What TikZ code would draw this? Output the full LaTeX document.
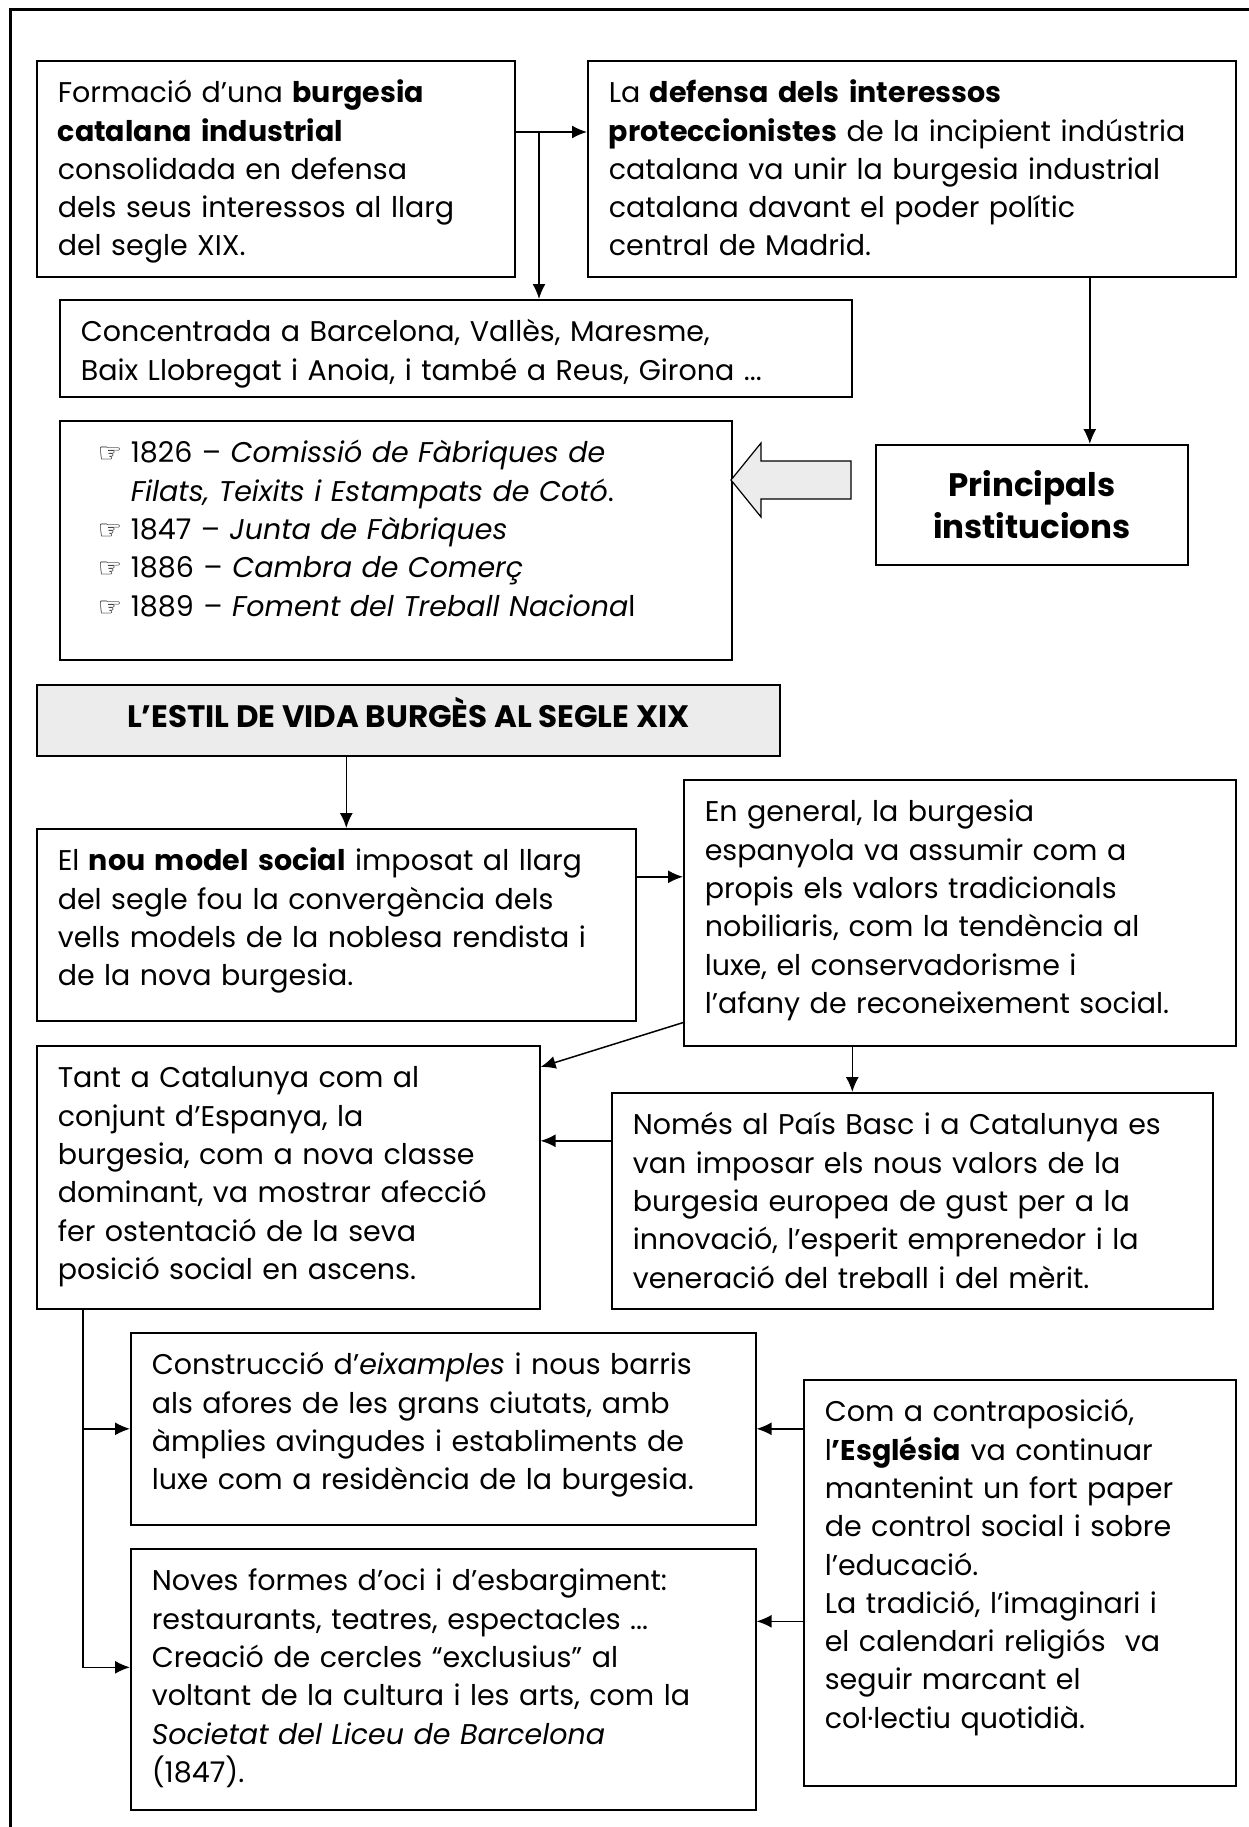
\documentclass[tikz,border=0pt]{standalone}
\usepackage{fontspec}
\setmainfont{Poppins}
\newfontfamily\symfont{DejaVu Sans}
\usetikzlibrary{arrows.meta}
\usetikzlibrary{calc}
\tikzset{box/.style={draw, line width=1.6pt, anchor=north west, align=left, inner xsep=21pt, inner ysep=0pt, text height=42pt, font=\fontsize{28.5}{38.3}\selectfont}}
\tikzset{headbox/.style={draw, line width=1.6pt, anchor=north west, align=center, inner sep=0pt}}
\tikzset{arr/.style={line width=1.5pt, -{Latex[length=15pt,width=13pt]}}}
\newcommand{\hand}{\makebox[50pt][l]{\hspace{17pt}\symfont\fontsize{27}{27}\selectfont ☞}}

\begin{document}
\begin{tikzpicture}[x=1pt,y=-1pt]
    \useasboundingbox (0,0) rectangle (1249,1827);
    \draw[line width=3pt] (10,1827) -- (10,10) -- (1249,10);

    % burgesia industrial
    \node[box, text width=436pt, text depth=174pt] (form) at (36,60) {Formació d’una \textbf{burgesia}\\ \textbf{catalana industrial}\\ consolidada en defensa\\ dels seus interessos al llarg\\ del segle XIX.};
    \node[box, text width=606pt, text depth=174pt] (defensa) at (587,60) {La \textbf{defensa dels interessos}\\ \textbf{proteccionistes} de la incipient indústria\\ catalana va unir la burgesia industrial\\ catalana davant el poder polític\\ central de Madrid.};
    \node[box, text width=750pt, text depth=55pt] (conc) at (59,299) {Concentrada a Barcelona, Vallès, Maresme,\\ Baix Llobregat i Anoia, i també a Reus, Girona ...};
    \node[box, text width=630pt, text depth=197pt] (list) at (59,420) {\hand 1826 – \textit{Comissió de Fàbriques de}\\ \hspace*{50pt}\textit{Filats, Teixits i Estampats de Cotó}.\\ \hand 1847 – \textit{Junta de Fàbriques}\\ \hand 1886 – \textit{Cambra de Comerç}\\ \hand 1889 – \textit{Foment del Treball Naciona}l};
    \node[headbox, minimum width=312pt, minimum height=120pt, font=\bfseries\fontsize{32.5}{42}\selectfont] (inst) at (875,444) {Principals\\ institucions};

    \coordinate (j1) at (539,132);
    \draw[arr] (form.east |- j1) -- (defensa.west |- j1);
    \draw[arr] (j1) -- (conc.north -| j1);
    \draw[arr] ([xshift=58pt]inst.north |- defensa.south) -- ([xshift=58pt]inst.north);
    \draw[line width=1.2pt, fill=gray!15] (731,480) -- (761,443) -- (761,461) -- (851,461) -- (851,499) -- (761,499) -- (761,517) -- cycle;

    % estil de vida
    \node[headbox, fill=gray!15, minimum width=743pt, minimum height=71pt, text height=22pt, text depth=7pt, font=\bfseries\fontsize{31}{34}\selectfont] (title) at (36,684) {L’ESTIL DE VIDA BURGÈS AL SEGLE XIX};
    \node[box, text width=557pt, text depth=150pt] (nou) at (36,828) {El \textbf{nou model social} imposat al llarg\\ del segle fou la convergència dels\\ vells models de la noblesa rendista i\\ de la nova burgesia.};
    \node[box, text width=510pt, text depth=224pt] (general) at (683,779) {En general, la burgesia\\ espanyola va assumir com a\\ propis els valors tradicionals\\ nobiliaris, com la tendència al\\ luxe, el conservadorisme i\\ l’afany de reconeixement social.};
    \node[box, text width=461pt, text depth=221pt] (tant) at (36,1045) {Tant a Catalunya com al\\ conjunt d’Espanya, la\\ burgesia, com a nova classe\\ dominant, va mostrar afecció\\ fer ostentació de la seva\\ posició social en ascens.};
    \node[box, text width=559pt, text depth=174pt] (nomes) at (611,1092) {Només al País Basc i a Catalunya es\\ van imposar els nous valors de la\\ burgesia europea de gust per a la\\ innovació, l’esperit emprenedor i la\\ veneració del treball i del mèrit.};
    \node[box, text width=583pt, text depth=150pt] (eix) at (130,1332) {Construcció d’\textit{eixamples} i nous barris\\ als afores de les grans ciutats, amb\\ àmplies avingudes i establiments de\\ luxe com a residència de la burgesia.};
    \node[box, text width=583pt, text depth=219pt] (oci) at (130,1548) {Noves formes d’oci i d’esbargiment:\\ restaurants, teatres, espectacles ...\\ Creació de cercles “exclusius” al\\ voltant de la cultura i les arts, com la\\ \textit{Societat del Liceu de Barcelona}\\ (1847).};
    \node[box, text width=390pt, text depth=364pt] (esg) at (803,1379) {Com a contraposició,\\ l\textbf{’Església} va continuar\\ mantenint un fort paper\\ de control social i sobre\\ l’educació.\\ La tradició, l’imaginari i\\ el calendari religiós\ \ va\\ seguir marcant el\\ col·lectiu quotidià.};

    \draw[arr] ([xshift=-62pt]title.south) -- ([xshift=-62pt]title.south |- nou.north);
    \draw[arr] ([yshift=48pt]nou.east) -- ([yshift=48pt]nou.east -| general.west);
    \draw[arr] ([yshift=24pt]general.south west) -- ([yshift=-22pt]tant.north east);
    \draw[arr] ([xshift=-60pt]nomes.north |- general.south) -- ([xshift=-60pt]nomes.north);
    \draw[arr] ([yshift=60pt]nomes.west) -- ([yshift=60pt]nomes.west -| tant.east);
    \draw[arr] ([xshift=47pt]tant.south west) |- ([yshift=12pt]oci.west);
    \draw[arr] ([xshift=47pt]tant.south west |- eix.west) -- (eix.west);
    \draw[arr] (esg.west |- eix.east) -- (eix.east);
    \draw[arr] ([yshift=58pt]oci.east -| esg.west) -- ([yshift=58pt]oci.east);
\end{tikzpicture}
\end{document}
